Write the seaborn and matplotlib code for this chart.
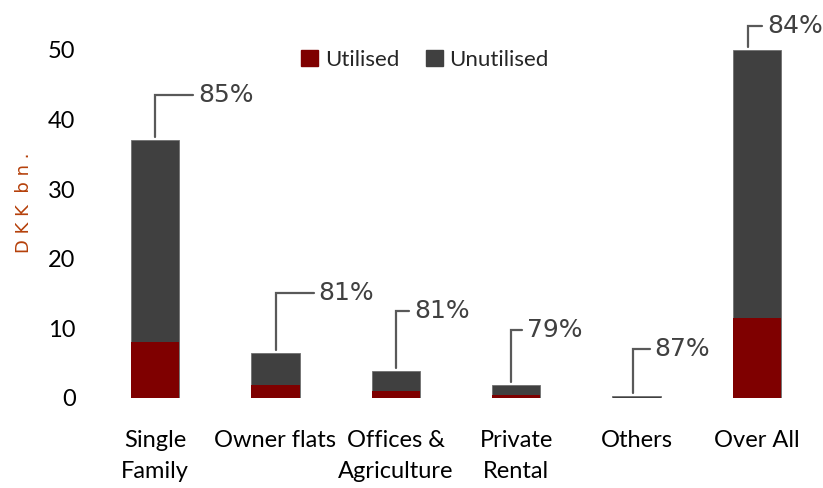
import matplotlib
matplotlib.use("Agg")
import matplotlib.pyplot as plt
import seaborn as sns
import pandas as pd
from matplotlib.patches import Patch

categories = ["Single\nFamily", "Owner flats", "Offices &\nAgriculture", "Private\nRental", "Others", "Over All"]
utilised = [8.0, 1.9, 1.0, 0.4, 0.05, 11.5]
total = [37.0, 6.5, 3.9, 1.9, 0.3, 50.0]
pct_labels = ["85%", "81%", "81%", "79%", "87%", "84%"]

sns.set_theme(style="white")
plt.rcParams["font.family"] = ["Lato", "DejaVu Sans"]

df = pd.DataFrame({"cat": categories, "utilised": utilised, "total": total})

fig = plt.figure(figsize=(8.23, 4.88), dpi=100)
ax = fig.add_axes([95 / 823, 1 - 398 / 488, 722 / 823, 348 / 488])

RED = "#7f0000"
DARK = "#404040"
sns.barplot(data=df, x="cat", y="total", color=DARK, width=0.4, ax=ax, saturation=1,
            edgecolor="#707070", linewidth=0.6)
sns.barplot(data=df, x="cat", y="utilised", color=RED, width=0.4, ax=ax, saturation=1,
            linewidth=0)

ax.set_xlim(-0.5, 5.5)
ax.set_ylim(0, 50)
ax.set_yticks([0, 10, 20, 30, 40, 50])
for s in ax.spines.values():
    s.set_visible(False)
ax.tick_params(axis="both", length=0, colors="black")
ax.tick_params(axis="y", pad=14, labelsize=17)
ax.tick_params(axis="x", pad=23, labelsize=17)
for lab in ax.get_xticklabels():
    lab.set_verticalalignment("top")
    lab.set_linespacing(1.6)
ax.set_xlabel("")
ax.set_ylabel("D K K  b n .", color="#b5400a", fontsize=13, family="DejaVu Sans")
ax.yaxis.set_label_coords((33 - 95) / 722, (398 - 203) / 348)

# elbow callouts (pixel offsets converted to data units)
px_y = 50 / 348.0
px_x = 1 / 120.0
rises = [45, 60, 60, 55, 47, 24]
xshift = [0, 0, 0, -5, -3, -9]
hlen = [38, 38, 13, 11, 16, 14]
for i, (t, lab) in enumerate(zip(total, pct_labels)):
    x0 = i + xshift[i] * px_x
    y0 = t + 3 * px_y
    y1 = t + rises[i] * px_y
    x1 = x0 + hlen[i] * px_x
    ax.plot([x0, x0, x1], [y0, y1, y1], color="#595959", lw=1.6, clip_on=False,
            solid_joinstyle="miter")
    ax.text(x1 + 5 * px_x, y1, lab, fontsize=18, color="#404040", va="center", ha="left",
            family="DejaVu Sans", clip_on=False)

handles = [Patch(facecolor=RED, edgecolor=RED), Patch(facecolor=DARK, edgecolor=DARK)]
ax.legend(handles, ["Utilised", "Unutilised"], loc="center", bbox_to_anchor=(425 / 823, 1 - 60 / 488),
          bbox_transform=fig.transFigure, ncol=2, frameon=False, fontsize=16,
          handlelength=0.75, handleheight=0.75, handletextpad=0.3, columnspacing=1.2)

fig.savefig("out.png", dpi=100)
